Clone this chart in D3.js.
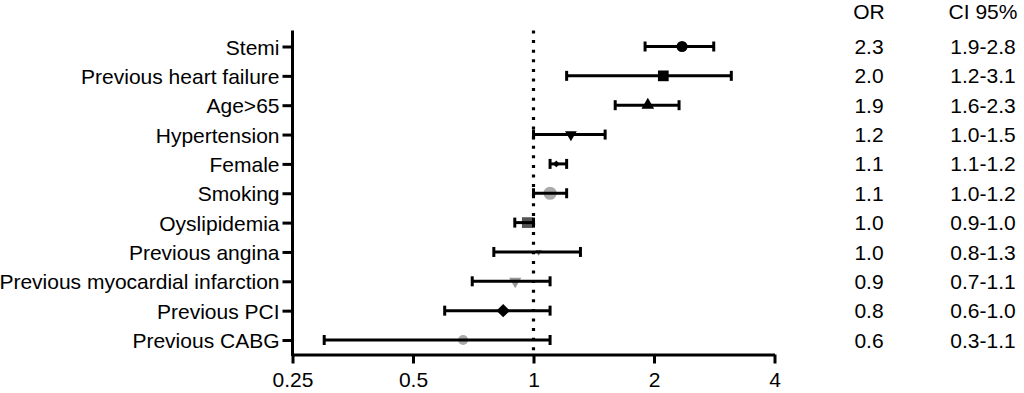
<!DOCTYPE html>
<html><head><meta charset="utf-8">
<script src="https://cdn.jsdelivr.net/npm/d3@7"></script>
<style>body{margin:0;background:#fff}svg{display:block}text{font-family:"Liberation Sans",Arial,Helvetica,sans-serif;fill:#000}</style>
</head><body>
<svg id="c" width="1024" height="393"></svg>
<script>
const categories = ["Stemi","Previous heart failure","Age>65","Hypertension","Female","Smoking","Oyslipidemia","Previous angina","Previous myocardial infarction","Previous PCI","Previous CABG"];
const oddsRatio = [2.35,2.11,1.93,1.24,1.14,1.10,0.965,1.03,0.90,0.84,0.667];
const ciLow = [1.90,1.21,1.60,1.0,1.10,1.0,0.898,0.796,0.703,0.60,0.30];
const ciHigh = [2.82,3.12,2.31,1.51,1.21,1.21,1.0,1.31,1.10,1.10,1.10];
const orLabels = ["2.3","2.0","1.9","1.2","1.1","1.1","1.0","1.0","0.9","0.8","0.6"];
const ciLabels = ["1.9-2.8","1.2-3.1","1.6-2.3","1.0-1.5","1.1-1.2","1.0-1.2","0.9-1.0","0.8-1.3","0.7-1.1","0.6-1.0","0.3-1.1"];
const xTicks = [0.25,0.5,1,2,4];
const xTickLabels = ["0.25","0.5","1","2","4"];

// marker styles (one per row)
const markerStyle = [
  {t:d3.symbolCircle,s:95,c:"#000",r:0},
  {t:d3.symbolSquare,s:115,c:"#000",r:0},
  {t:d3.symbolTriangle,s:70,c:"#000",r:0},
  {t:d3.symbolTriangle,s:60,c:"#000",r:180},
  {t:d3.symbolSquare,s:24,c:"#000",r:45},
  {t:d3.symbolCircle,s:135,c:"#aaa",r:0},
  {t:d3.symbolSquare,s:115,c:"#555",r:0},
  {t:d3.symbolTriangle,s:18,c:"#777",r:180},
  {t:d3.symbolTriangle,s:65,c:"#999",r:180},
  {t:d3.symbolSquare,s:90,c:"#000",r:45},
  {t:d3.symbolCircle,s:80,c:"#aaa",r:0}
];

const svg = d3.select("#c");
const x = d3.scaleLog().base(2).domain([0.25,4]).range([292.5,774.5]);
const y = d3.scalePoint().domain(categories).range([46.5,340]);
const axisY = 354.5, topY = 30.5;
const FS = "21px";

// y axis
svg.append("line").attr("x1",x(0.25)).attr("x2",x(0.25)).attr("y1",topY).attr("y2",axisY+1.5)
  .attr("stroke","#000").attr("stroke-width",3);
const ya = svg.append("g").attr("transform",`translate(${x(0.25)},0)`)
  .call(d3.axisLeft(y).tickSize(10).tickPadding(4));
ya.select(".domain").remove();
ya.selectAll(".tick line").attr("stroke","#000").attr("stroke-width",3);
ya.selectAll(".tick text").attr("font-size",FS).attr("dy","0.36em").attr("x",-13);

// x axis
const xa = svg.append("g").attr("transform",`translate(0,${axisY})`)
  .call(d3.axisBottom(x).tickValues(xTicks).tickFormat((d,i)=>xTickLabels[i]).tickSize(9).tickPadding(9).tickSizeOuter(0));
xa.select(".domain").attr("stroke","#000").attr("stroke-width",3);
xa.selectAll(".tick line").attr("stroke","#000").attr("stroke-width",3);
xa.selectAll(".tick text").attr("font-size",FS);

// reference line at OR = 1
svg.append("line").attr("x1",x(1)).attr("x2",x(1)).attr("y1",topY).attr("y2",axisY)
  .attr("stroke","#000").attr("stroke-width",3.2).attr("stroke-dasharray","3 6.6");

// markers
const rows = categories.map((c,i)=>({c,i,or:oddsRatio[i],lo:ciLow[i],hi:ciHigh[i]}));
svg.append("g").selectAll("path").data(rows).join("path")
  .attr("d",d=>d3.symbol().type(markerStyle[d.i].t).size(markerStyle[d.i].s)())
  .attr("transform",d=>`translate(${x(d.or)},${y(d.c)}) rotate(${markerStyle[d.i].r})`)
  .attr("fill",d=>markerStyle[d.i].c);

// error bars
const eb = svg.append("g").attr("stroke","#000").attr("stroke-width",3);
eb.selectAll(".bar").data(rows).join("line").attr("class","bar")
  .attr("x1",d=>x(d.lo)).attr("x2",d=>x(d.hi)).attr("y1",d=>y(d.c)).attr("y2",d=>y(d.c));
eb.selectAll(".capl").data(rows).join("line").attr("class","capl")
  .attr("x1",d=>x(d.lo)).attr("x2",d=>x(d.lo)).attr("y1",d=>y(d.c)-5).attr("y2",d=>y(d.c)+5);
eb.selectAll(".caph").data(rows).join("line").attr("class","caph")
  .attr("x1",d=>x(d.hi)).attr("x2",d=>x(d.hi)).attr("y1",d=>y(d.c)-5).attr("y2",d=>y(d.c)+5);

// table columns
const orX = 869, ciX = 983;
svg.append("text").attr("x",orX).attr("y",19).attr("text-anchor","middle").attr("font-size",FS).text("OR");
svg.append("text").attr("x",ciX).attr("y",19).attr("text-anchor","middle").attr("font-size",FS).text("CI 95%");
svg.append("g").selectAll("text").data(rows).join("text")
  .attr("x",orX).attr("y",d=>y(d.c)).attr("dy","0.36em").attr("text-anchor","middle").attr("font-size",FS)
  .text(d=>orLabels[d.i]);
svg.append("g").selectAll("text").data(rows).join("text")
  .attr("x",ciX).attr("y",d=>y(d.c)).attr("dy","0.36em").attr("text-anchor","middle").attr("font-size",FS)
  .text(d=>ciLabels[d.i]);
</script>
</body></html>
